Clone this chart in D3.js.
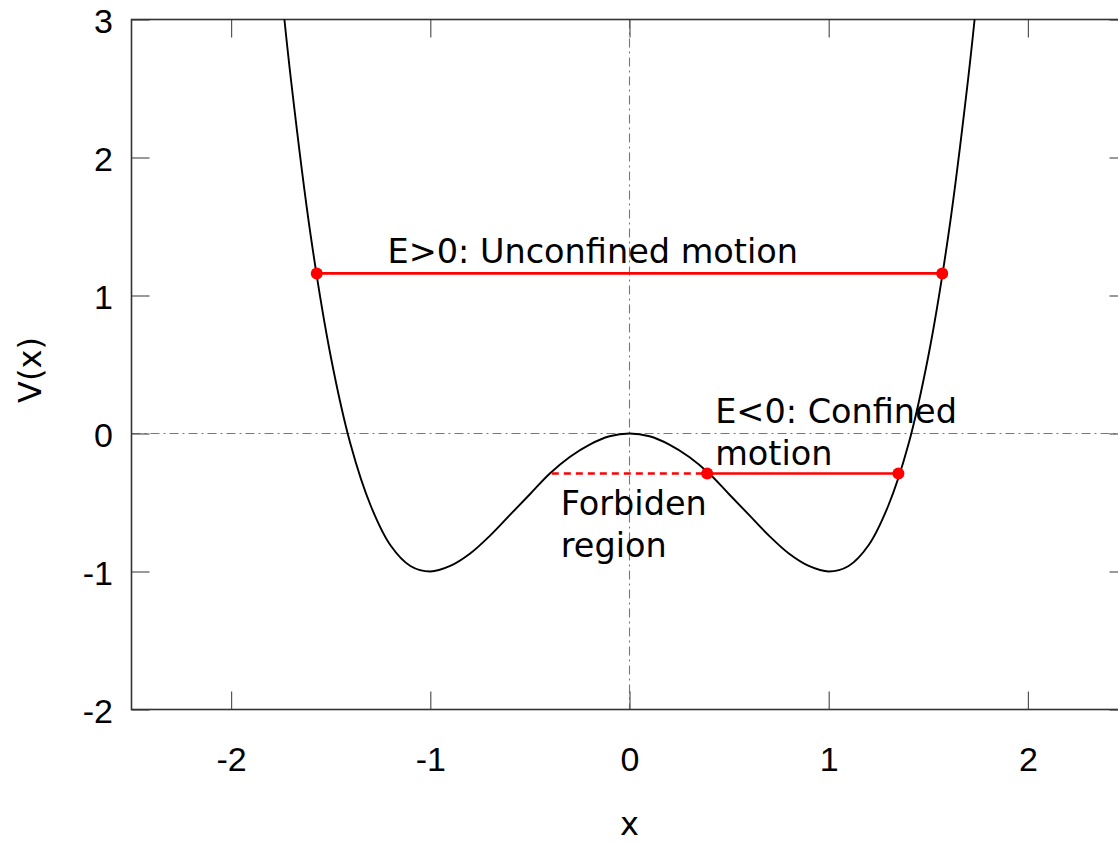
<!DOCTYPE html>
<html>
<head>
<meta charset="utf-8">
<script src="https://cdn.jsdelivr.net/npm/d3@7"></script>
<style>
  html, body { margin: 0; padding: 0; background: #fff; overflow: hidden; }
  svg { display: block; }
</style>
</head>
<body>
<svg id="chart" width="1118" height="843"></svg>
<script>
// ---- data ----
const curveX = [-1.75, -1.7, -1.6, -1.5, -1.4, -1.3, -1.2, -1.1, -1.0, -0.9, -0.8, -0.7, -0.6, -0.5, -0.4, -0.3, -0.2, -0.1, 0,
                 0.1, 0.2, 0.3, 0.4, 0.5, 0.6, 0.7, 0.8, 0.9, 1.0, 1.1, 1.2, 1.3, 1.4, 1.5, 1.6, 1.7, 1.75];
const curveV = [3.25, 2.57, 1.43, 0.56, -0.08, -0.52, -0.81, -0.96, -1.0, -0.96, -0.87, -0.74, -0.59, -0.44, -0.29, -0.17, -0.08, -0.02, 0,
                -0.02, -0.08, -0.17, -0.29, -0.44, -0.59, -0.74, -0.87, -0.96, -1.0, -0.96, -0.81, -0.52, -0.08, 0.56, 1.43, 2.57, 3.25];

const energyHigh = 1.16;          // E>0 level
const energyHighX = [-1.57, 1.57]; // turning points
const energyLow = -0.29;          // E<0 level
const energyLowX = [0.39, 1.35];  // turning points (allowed region)
const forbiddenX = [-0.39, 0.39]; // forbidden segment

const xTicks = [-2, -1, 0, 1, 2];
const yTicks = [-2, -1, 0, 1, 2, 3];
const xDomain = [-2.5, 2.5];
const yDomain = [-2, 3];

const annotations = [
  { lines: ["E>0: Unconfined motion"], x: -1.215, y: 1.235 },
  { lines: ["E<0: Confined", "motion"], x: 0.43, y: 0.078 },
  { lines: ["Forbiden", "region"], x: -0.345, y: -0.59 }
];
const xLabel = "x";
const yLabel = "V(x)";

// ---- layout ----
const svg = d3.select("#chart");
const pLeft = 131.5, pRight = 1127.5, pTop = 19.5, pBottom = 709.5;
const x = d3.scaleLinear().domain(xDomain).range([pLeft, pRight]);
const y = d3.scaleLinear().domain(yDomain).range([pBottom, pTop]);

svg.append("defs").append("clipPath").attr("id", "clip")
  .append("rect").attr("x", pLeft).attr("y", pTop)
  .attr("width", pRight - pLeft).attr("height", pBottom - pTop);

// zero lines (dash-dot)
svg.append("line")
  .attr("x1", pLeft).attr("x2", pRight).attr("y1", y(0)).attr("y2", y(0))
  .attr("stroke", "#777").attr("stroke-width", 1.1).attr("stroke-dasharray", "9,4,2,4");
svg.append("line")
  .attr("x1", x(0)).attr("x2", x(0)).attr("y1", pTop).attr("y2", pBottom)
  .attr("stroke", "#777").attr("stroke-width", 1.1).attr("stroke-dasharray", "9,4,2,4");

// axes
const tickFont = "'Liberation Sans', Arial, Helvetica, sans-serif";
const fmt = d => String(d);
const gB = svg.append("g").attr("transform", `translate(0,${pBottom})`)
  .call(d3.axisBottom(x).tickValues(xTicks).tickFormat(fmt).tickSizeInner(-18).tickSizeOuter(0).tickPadding(37));
const gL = svg.append("g").attr("transform", `translate(${pLeft},0)`)
  .call(d3.axisLeft(y).tickValues(yTicks).tickFormat(fmt).tickSizeInner(-18).tickSizeOuter(0).tickPadding(18.5));
const gT = svg.append("g").attr("transform", `translate(0,${pTop})`)
  .call(d3.axisTop(x).tickValues(xTicks).tickFormat("").tickSizeInner(-18).tickSizeOuter(0));
const gR = svg.append("g").attr("transform", `translate(${pRight},0)`)
  .call(d3.axisRight(y).tickValues(yTicks).tickFormat("").tickSizeInner(-18).tickSizeOuter(0));

[gB, gL, gT, gR].forEach(g => {
  g.select(".domain").remove();
  g.selectAll(".tick line").attr("stroke", "#555").attr("stroke-width", 1.2);
  g.selectAll(".tick text").attr("fill", "#000").style("font-family", tickFont).style("font-size", "34px");
});
gL.selectAll(".tick text").attr("dy", "0.38em");

// frame
svg.append("rect")
  .attr("x", pLeft).attr("y", pTop).attr("width", pRight - pLeft).attr("height", pBottom - pTop)
  .attr("fill", "none").attr("stroke", "#333").attr("stroke-width", 1.6);

// potential curve
const pts = curveX.map((d, i) => [d, curveV[i]]);
svg.append("path")
  .datum(pts)
  .attr("clip-path", "url(#clip)")
  .attr("fill", "none").attr("stroke", "#000").attr("stroke-width", 1.9)
  .attr("d", d3.line().x(d => x(d[0])).y(d => y(d[1])).curve(d3.curveCatmullRom.alpha(0.5)));

// energy lines
const red = "#ff0000";
svg.append("line")
  .attr("x1", x(energyHighX[0])).attr("x2", x(energyHighX[1]))
  .attr("y1", y(energyHigh)).attr("y2", y(energyHigh))
  .attr("stroke", red).attr("stroke-width", 2.6);
svg.append("line")
  .attr("x1", x(energyLowX[0])).attr("x2", x(energyLowX[1]))
  .attr("y1", y(energyLow)).attr("y2", y(energyLow))
  .attr("stroke", red).attr("stroke-width", 2.6);
svg.append("line")
  .attr("x1", x(forbiddenX[0])).attr("x2", x(forbiddenX[1]))
  .attr("y1", y(energyLow)).attr("y2", y(energyLow))
  .attr("stroke", red).attr("stroke-width", 2.6).attr("stroke-dasharray", "7,5");

const dots = [
  [energyHighX[0], energyHigh], [energyHighX[1], energyHigh],
  [energyLowX[0], energyLow], [energyLowX[1], energyLow]
];
svg.selectAll("circle.pt").data(dots).enter().append("circle")
  .attr("class", "pt")
  .attr("cx", d => x(d[0])).attr("cy", d => y(d[1])).attr("r", 6)
  .attr("fill", red);

// annotations
const textFont = "'DejaVu Sans', Verdana, sans-serif";
annotations.forEach(a => {
  const t = svg.append("text")
    .attr("x", x(a.x)).attr("y", y(a.y))
    .style("font-family", textFont).style("font-size", "33.5px").attr("fill", "#000");
  a.lines.forEach((ln, i) => {
    t.append("tspan").attr("x", x(a.x)).attr("dy", i === 0 ? 0 : 42).text(ln);
  });
});

// axis labels
svg.append("text")
  .attr("x", x(0)).attr("y", 835)
  .attr("text-anchor", "middle")
  .style("font-family", textFont).style("font-size", "32px")
  .text(xLabel);
svg.append("text")
  .attr("transform", "translate(41,370) rotate(-90)")
  .attr("text-anchor", "middle")
  .style("font-family", textFont).style("font-size", "32px")
  .text(yLabel);
</script>
</body>
</html>
